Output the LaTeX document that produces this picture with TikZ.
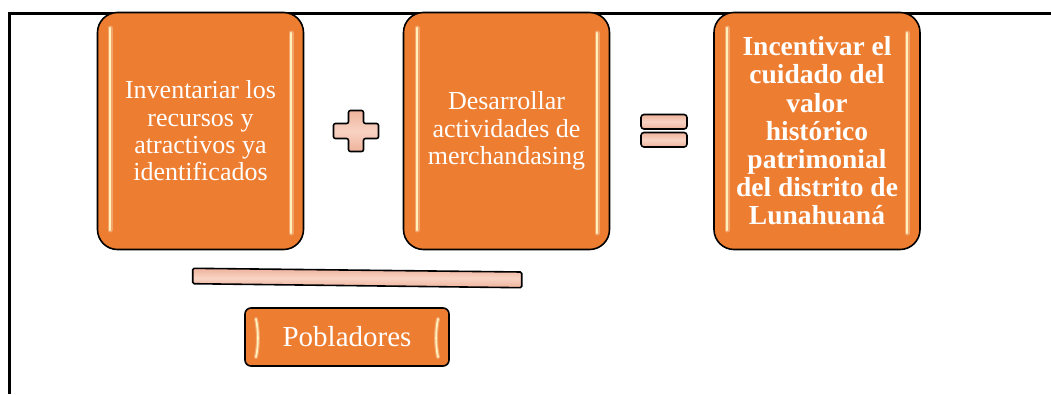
\documentclass[tikz,border=0pt]{standalone}
\usepackage{fontspec}
\setmainfont{Liberation Serif}
\definecolor{org}{HTML}{ED7D31}
\definecolor{pinkf}{HTML}{F8D3C3}
\definecolor{pinkd}{HTML}{EFB39C}
\definecolor{hl}{HTML}{FFF1B8}
\tikzset{
  card/.style={draw=black, line width=1.6pt, fill=org, rounded corners=20pt,
    minimum width=206pt, minimum height=237pt, inner sep=0pt, text=white,
    align=flush center, text width=190pt},
  pill/.style={draw=black, line width=1.6pt, fill=org, rounded corners=6pt,
    minimum width=204pt, minimum height=58pt, inner sep=0pt, text=white},
  sym/.style={draw=black, line width=1.6pt, top color=pinkd, bottom color=pinkd, middle color=pinkf},
  glow/.style={line width=5pt, line cap=round, color=org!50!white, opacity=0.6},
  shine/.style={line width=2.2pt, line cap=round, color=hl}
}
\begin{document}
\begin{tikzpicture}[x=1pt,y=-1pt]
\useasboundingbox (0,0) rectangle (1051,394);
% frame
\draw[line width=3.5pt] (9.5,394) -- (9.5,13.5) -- (1051,13.5);
% cards
\node[card, font=\fontsize{26}{27.3}\selectfont] (b1) at (200.5,131) {Inventariar los\\recursos y\\atractivos ya\\identificados};
\node[card, font=\fontsize{26}{27.6}\selectfont] (b2) at (506.5,131) {Desarrollar\\actividades de\\merchandasing};
\node[card, font=\bfseries\fontsize{27.5}{28.2}\selectfont] (b3) at (817,131) {Incentivar el\\cuidado del\\valor\\histórico\\patrimonial\\del distrito de\\Lunahuaná};
% highlights
\foreach \xl/\xr in {110/291, 417/597, 727/907}{
  \draw[glow] (\xl,28) -- (\xl,230);
  \draw[glow] (\xr,33) -- (\xr,233);
  \draw[shine] (\xl,28) -- (\xl,230);
  \draw[shine] (\xr,33) -- (\xr,233);
}
% plus
\draw[sym, rounded corners=2pt] (348.5,110.5) -- (363.5,110.5) -- (363.5,123.5) -- (378.5,123.5) -- (378.5,138.5) -- (363.5,138.5) -- (363.5,151.5) -- (348.5,151.5) -- (348.5,138.5) -- (333.5,138.5) -- (333.5,123.5) -- (348.5,123.5) -- cycle;
% equals
\draw[sym, rounded corners=3pt] (641,114.5) rectangle (687,129);
\draw[sym, rounded corners=3pt] (641,132.5) rectangle (687,147);
% bar
\draw[sym, rounded corners=1.5pt] (192.7,268.3) -- (521.7,272) -- (521.7,287.7) -- (192.7,283.7) -- cycle;
% Pobladores
\node[pill, font=\fontsize{29}{30}\selectfont] (p) at (347,337) {Pobladores};
\draw[glow, line width=4pt] (256,319) .. controls (258.5,330) and (258.5,346) .. (256,357);
\draw[glow, line width=4pt] (438,319) .. controls (435.5,330) and (435.5,346) .. (438,357);
\draw[shine, line width=1.8pt] (256,319) .. controls (258.5,330) and (258.5,346) .. (256,357);
\draw[shine, line width=1.8pt] (438,319) .. controls (435.5,330) and (435.5,346) .. (438,357);
\end{tikzpicture}
\end{document}
